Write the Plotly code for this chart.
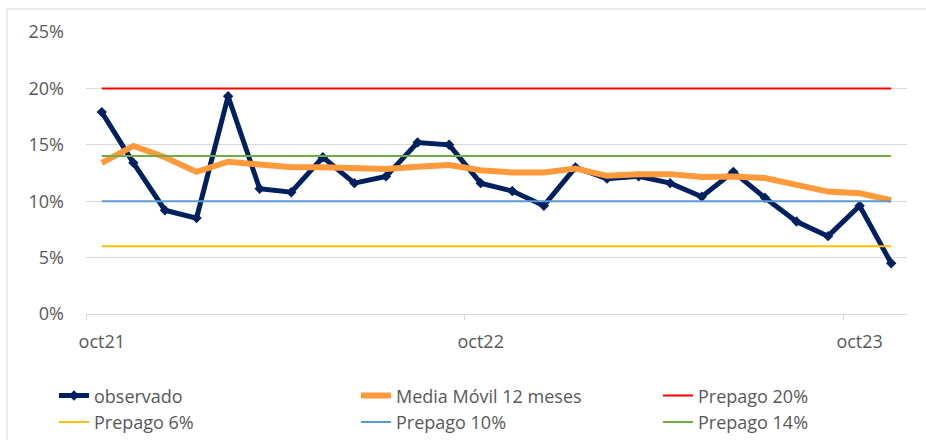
import plotly.graph_objects as go

meses = ["oct21", "nov21", "dic21", "ene22", "feb22", "mar22", "abr22", "may22", "jun22",
         "jul22", "ago22", "sep22", "oct22", "nov22", "dic22", "ene23", "feb23", "mar23",
         "abr23", "may23", "jun23", "jul23", "ago23", "sep23", "oct23", "nov23"]

observado = [17.9, 13.4, 9.2, 8.5, 19.3, 11.1, 10.8, 13.9, 11.6, 12.2, 15.2, 15.0, 11.6,
             10.9, 9.6, 13.0, 12.0, 12.2, 11.6, 10.4, 12.6, 10.3, 8.2, 6.9, 9.6, 4.5]

media_movil = [13.4, 14.9, 13.9, 12.6, 13.5, 13.3, 13.0, 13.0, 12.9, 12.85, 13.05, 13.2,
               12.75, 12.55, 12.55, 12.9, 12.25, 12.4, 12.4, 12.15, 12.2, 12.05, 11.45,
               10.85, 10.7, 10.1]

umbrales = [("Prepago 20%", 20, "#FF0000"), ("Prepago 6%", 6, "#FFC000"),
            ("Prepago 10%", 10, "#5B9BD5"), ("Prepago 14%", 14, "#70AD47")]

FONT = "Open Sans"
GRAY = "#595959"

fig = go.Figure()
fig.add_trace(go.Scatter(
    x=meses, y=[v / 100 for v in observado], name="observado", mode="lines+markers",
    line=dict(color="#002060", width=5), marker=dict(symbol="diamond", size=8, color="#002060")))
fig.add_trace(go.Scatter(
    x=meses, y=[v / 100 for v in media_movil], name="Media Móvil 12 meses", mode="lines",
    line=dict(color="#FF9A3C", width=6)))
for nombre, valor, color in umbrales:
    fig.add_trace(go.Scatter(
        x=meses, y=[valor / 100] * len(meses), name=nombre, mode="lines",
        line=dict(color=color, width=2)))

fig.update_layout(
    width=926, height=440,
    margin=dict(l=86, r=19, t=32, b=126, autoexpand=False),
    paper_bgcolor="white", plot_bgcolor="white",
    font=dict(family=FONT, size=18, color=GRAY),
    showlegend=True,
    legend=dict(orientation="h", x=-0.039, xanchor="left", y=-0.2244, yanchor="top",
                entrywidth=257, entrywidthmode="pixels", traceorder="normal",
                font=dict(family=FONT, size=18, color=GRAY), tracegroupgap=0),
    xaxis=dict(type="category", categoryorder="array", categoryarray=meses,
               range=[-0.5, len(meses) - 0.5],
               tickmode="linear", tick0=0, dtick=12, tickson="boundaries",
               ticks="outside", ticklen=5, tickcolor="#D9D9D9", tickangle=0,
               showline=True, linecolor="#D9D9D9", linewidth=1,
               showgrid=False, zeroline=False, ticklabelstandoff=11,
               tickfont=dict(family=FONT, size=18, color=GRAY)),
    yaxis=dict(range=[0, 0.25], tickmode="linear", tick0=0, dtick=0.05, tickformat=".0%",
               showgrid=True, gridcolor="#D9D9D9", gridwidth=1, zeroline=False,
               showline=False, ticks="", ticklabelstandoff=21,
               tickfont=dict(family=FONT, size=18, color=GRAY)),
    shapes=[dict(type="rect", xref="paper", yref="paper", x0=-0.0962, x1=1.1,
                 y0=-0.5, y1=1.0816, line=dict(color="#D9D9D9", width=1),
                 fillcolor="rgba(0,0,0,0)", layer="below")],
)

fig.write_html("out.html", config={"displayModeBar": False},
               post_script="document.body.style.margin='0';document.body.style.overflow='hidden';")
